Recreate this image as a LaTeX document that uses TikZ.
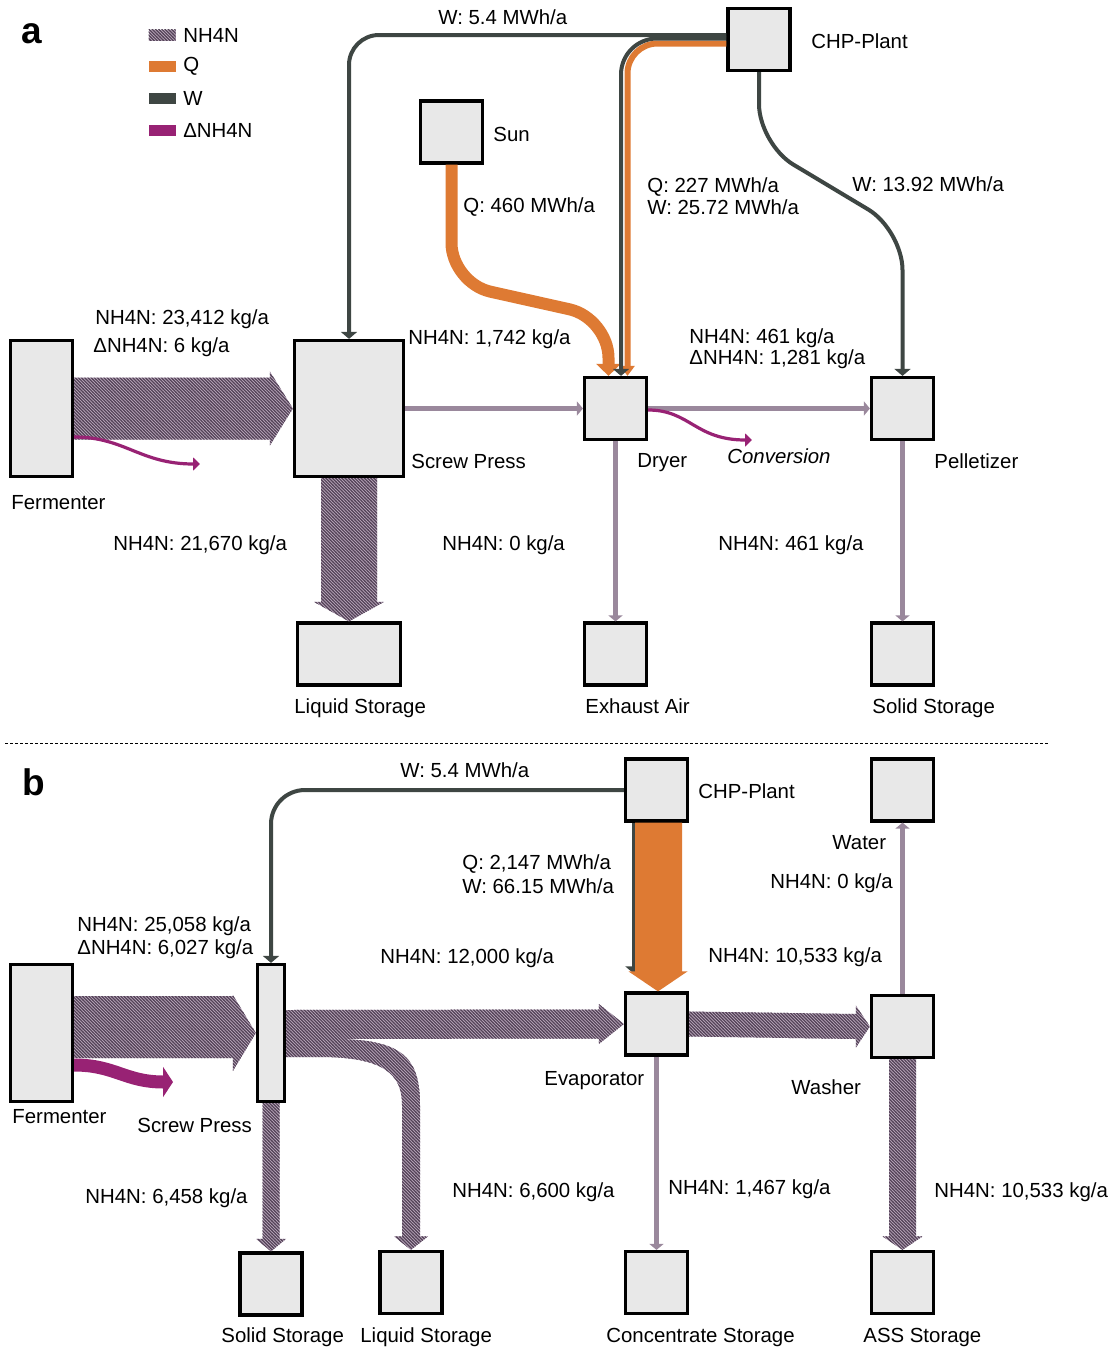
\documentclass[tikz,border=0pt]{standalone}
\usepackage{fontspec}
\setmainfont{Liberation Sans}
\usetikzlibrary{arrows.meta}
\usetikzlibrary{calc}
\usetikzlibrary{patterns}
\usetikzlibrary{positioning}

\definecolor{boxgray}{HTML}{E8E8E8}
\definecolor{wgray}{HTML}{3E4643}
\definecolor{qorange}{HTML}{DE7A33}
\definecolor{dpurple}{HTML}{982274}
\definecolor{nhback}{HTML}{BBA9BD}
\definecolor{nhline}{HTML}{544358}
\definecolor{nhpale}{HTML}{9A889C}

\pgfdeclarepatternformonly{nhhatch}{\pgfqpoint{-1pt}{-1pt}}{\pgfqpoint{2.6pt}{2.6pt}}{\pgfqpoint{1.6pt}{1.6pt}}{%
  \pgfsetlinewidth{0.6pt}%
  \pgfpathmoveto{\pgfqpoint{-0.1pt}{1.7pt}}%
  \pgfpathlineto{\pgfqpoint{1.7pt}{-0.1pt}}%
  \pgfusepath{stroke}}

\begin{document}
\begin{tikzpicture}[x=0.5pt, y=-0.5pt,
    unit/.style={draw, line width=1.6pt, fill=boxgray, minimum width=31pt,
      minimum height=31pt, inner sep=0pt},
    txt/.style={anchor=base west, inner sep=0pt, font=\fontsize{10.2}{12}\selectfont},
    nh/.style={fill=nhback, postaction={pattern=nhhatch, pattern color=nhline}},
    nhthin/.style={draw=nhpale, line width=2.2pt, -{Triangle[width=7pt, length=3pt]}},
    wflow/.style={draw=wgray, line width=2pt, rounded corners=15pt,
      -{Triangle[width=8pt, length=3.5pt]}},
    qflow/.style={draw=qorange, line width=6pt, rounded corners=20pt,
      -{Triangle[width=12pt, length=6pt]}},
    dflow/.style={draw=dpurple, line width=1.6pt, -{Triangle[width=6.5pt, length=3.5pt]}}]
  \useasboundingbox (0,0) rectangle (1114,1349);

  % panel letters
  \node[txt, font=\fontsize{18.5}{22}\selectfont\bfseries] (panelA) at (21,43) {a};
  \node[txt, font=\fontsize{18.5}{22}\selectfont\bfseries] (panelB) at (22,795) {b};

  % legend
  \node[nh, minimum width=13.5pt, minimum height=5.5pt, inner sep=0pt] (legNH) at (162,35) {};
  \node[fill=qorange, minimum width=13.5pt, minimum height=5.5pt, inner sep=0pt] (legQ) at (162,66.5) {};
  \node[fill=wgray, minimum width=13.5pt, minimum height=5.5pt, inner sep=0pt] (legW) at (162,98) {};
  \node[fill=dpurple, minimum width=13.5pt, minimum height=5.5pt, inner sep=0pt] (legD) at (162,130) {};
  \node[txt, right=3.5pt of legNH] (legNHtxt) {NH4N};
  \node[txt, right=3.5pt of legQ] (legQtxt) {Q};
  \node[txt, right=3.5pt of legW] (legWtxt) {W};
  \node[txt, right=3.5pt of legD] (legDtxt) {ΔNH4N};

  % units, panel a
  \node[unit, minimum height=68pt] (fermA) at (41.5,408.5) {};
  \node[unit, minimum width=54.5pt, minimum height=68pt] (pressA) at (349,408.5) {};
  \node[unit] (sun) at (451.5,132) {};
  \node[unit] (chpA) at (759,39.5) {};
  \node[unit] (dryer) at (615.5,408.5) {};
  \node[unit] (pellet) at (902.5,408.5) {};
  \node[unit, minimum width=51.5pt] (liqA) at (349,654) {};
  \node[unit] (exhaust) at (615.5,654) {};
  \node[unit] (solidA) at (902.5,654) {};

  % NH4N flows, panel a
  \fill[nh] ($(fermA.east)+(0,-31)$) -- ($(pressA.west)+(-23,-31)$) -- ($(pressA.west)+(-23,-37)$)
    -- (pressA.west) -- ($(pressA.west)+(-23,37)$) -- ($(pressA.west)+(-23,31)$)
    -- ($(fermA.east)+(0,31)$) -- cycle;
  \fill[nh] ($(pressA.south)+(-28,0)$) -- ($(liqA.north)+(-28,-19.5)$) -- ($(liqA.north)+(-35,-19.5)$)
    -- (liqA.north) -- ($(liqA.north)+(35,-19.5)$) -- ($(liqA.north)+(28,-19.5)$)
    -- ($(pressA.south)+(28,0)$) -- cycle;
  \draw[nhthin] (pressA.east) -- (dryer.west);
  \draw[nhthin] (dryer.east) -- (pellet.west);
  \draw[nhthin] (dryer.south) -- (exhaust.north);
  \draw[nhthin] (pellet.south) -- (solidA.north);

  % heat and power, panel a
  \draw[qflow] (sun.south) -- (451.5,283) -- (608.5,318) -- ($(dryer.north)+(-7,0)$);
  \draw[qflow, line width=3pt, rounded corners=15pt, -{Triangle[width=7pt, length=5pt]}]
    ($(chpA.west)+(0,4)$) -- (627.5,43.5) -- ($(dryer.north)+(12,0)$);
  \draw[wflow, rounded corners=18pt] ($(chpA.west)+(0,-1)$) -- (621,38.5) -- ($(dryer.north)+(5.5,0)$);
  \draw[wflow] ($(chpA.west)+(0,-4.5)$) -- (349,35) -- (pressA.north);
  \draw[wflow, rounded corners=20pt] (chpA.south) -- (759,144) -- (902.5,230) -- (pellet.north);

  % conversion losses, panel a
  \coordinate (dfermA) at (200,464);
  \coordinate (conv) at (752,440);
  \draw[dflow] ($(fermA.east)+(0,28.5)$) .. controls (125,437) and (140,464) .. (dfermA);
  \draw[dflow] ($(dryer.east)+(0,1.5)$) .. controls (690,410) and (695,440) .. (conv);

  % labels, panel a
  \node[txt] (tWa) at (438,25) {W: 5.4 MWh/a};
  \node[txt] (tChpA) at (811,48) {CHP-Plant};
  \node[txt] (tSun) at (493,141) {Sun};
  \node[txt] (tQsun) at (463,212) {Q: 460 MWh/a};
  \node[txt] (tQchp) at (647,192) {Q: 227 MWh/a};
  \node[txt] (tWchp) at (647,214) {W: 25.72 MWh/a};
  \node[txt] (tWpel) at (852,191) {W: 13.92 MWh/a};
  \node[txt] (tFlowA1) at (95,324) {NH4N: 23,412 kg/a};
  \node[txt] (tFlowA2) at (93,352) {ΔNH4N: 6 kg/a};
  \node[txt] (tFlowA3) at (408,344) {NH4N: 1,742 kg/a};
  \node[txt] (tFlowA4) at (689,343) {NH4N: 461 kg/a};
  \node[txt] (tFlowA5) at (689,364) {ΔNH4N: 1,281 kg/a};
  \node[txt] (tPressA) at (411,468) {Screw Press};
  \node[txt] (tDryer) at (637,467) {Dryer};
  \node[txt] (tConv) at (727,463) {\itshape Conversion};
  \node[txt] (tPellet) at (934,468) {Pelletizer};
  \node[txt] (tFermA) at (11,509) {Fermenter};
  \node[txt] (tFlowA6) at (113,550) {NH4N: 21,670 kg/a};
  \node[txt] (tFlowA7) at (442,550) {NH4N: 0 kg/a};
  \node[txt] (tFlowA8) at (718,550) {NH4N: 461 kg/a};
  \node[txt] (tLiqA) at (294,713) {Liquid Storage};
  \node[txt] (tExhaust) at (585,713) {Exhaust Air};
  \node[txt] (tSolidA) at (872,713) {Solid Storage};

  % separator
  \draw[dash pattern=on 1.5pt off 1pt, line width=0.5pt] (5,743) -- (1048,743);

  % units, panel b
  \node[unit] (chpB) at (656.5,790) {};
  \node[unit] (water) at (902.5,790) {};
  \node[unit, minimum height=68.5pt] (fermB) at (41.5,1033) {};
  \node[unit, minimum width=13.5pt, minimum height=68.5pt] (pressB) at (271,1033) {};
  \node[unit] (evap) at (656.5,1024) {};
  \node[unit] (washer) at (902.5,1026.5) {};
  \node[unit] (solidB) at (271,1284) {};
  \node[unit] (liqB) at (411,1282.5) {};
  \node[unit] (conc) at (656.5,1282.5) {};
  \node[unit] (ass) at (902.5,1282.5) {};

  % NH4N flows, panel b
  \fill[nh] ($(fermB.east)+(0,-37)$) -- ($(pressB.west)+(-23,-37)$) -- ($(pressB.west)+(-23,-38)$)
    -- (pressB.west) -- ($(pressB.west)+(-23,38)$) -- ($(pressB.west)+(-23,25)$)
    -- ($(fermB.east)+(0,25)$) -- cycle;
  \fill[nh] ($(pressB.east)+(0,-23)$) -- ($(evap.west)+(-25,-14.5)$) -- ($(evap.west)+(-25,-20)$)
    -- (evap.west) -- ($(evap.west)+(-25,20)$) -- ($(evap.west)+(-25,14.5)$)
    -- ($(pressB.east)+(0,6)$) -- cycle;
  \fill[nh] ($(pressB.east)+(0,6)$) -- (335,1039) .. controls (405,1039) and (420,1060) .. (420,1105)
    -- ($(liqB.north)+(9,-13.5)$) -- ($(liqB.north)+(17,-13.5)$) -- (liqB.north)
    -- ($(liqB.north)+(-17,-13.5)$) -- ($(liqB.north)+(-9,-13.5)$)
    -- (402,1105) .. controls (402,1075) and (385,1057) .. (320,1057)
    -- ($(pressB.east)+(0,24)$) -- cycle;
  \fill[nh] ($(pressB.south)+(-8.5,0)$) -- ($(solidB.north)+(-8.5,-12.5)$) -- ($(solidB.north)+(-15,-12.5)$)
    -- (solidB.north) -- ($(solidB.north)+(15,-12.5)$) -- ($(solidB.north)+(8.5,-12.5)$)
    -- ($(pressB.south)+(8.5,0)$) -- cycle;
  \fill[nh] ($(evap.east)+(0,-12.5)$) -- ($(washer.west)+(-14,-12.5)$) -- ($(washer.west)+(-14,-21)$)
    -- (washer.west) -- ($(washer.west)+(-14,21)$) -- ($(washer.west)+(-14,12.5)$)
    -- ($(evap.east)+(0,12.5)$) -- cycle;
  \fill[nh] ($(washer.south)+(-13.5,0)$) -- ($(ass.north)+(-13.5,-13.5)$) -- ($(ass.north)+(-20,-13.5)$)
    -- (ass.north) -- ($(ass.north)+(20,-13.5)$) -- ($(ass.north)+(13.5,-13.5)$)
    -- ($(washer.south)+(13.5,0)$) -- cycle;
  \draw[nhthin] (evap.south) -- (conc.north);
  \draw[nhthin] (washer.north) -- (water.south);

  % heat and power, panel b
  \draw[wflow, rounded corners=17pt] (chpB.west) -- (271,790) -- (pressB.north);
  \draw[wflow] ($(chpB.south)+(-23,0)$) -- ($(evap.north)+(-23,-18)$);
  \fill[qorange] ($(chpB.south)+(-21.5,0)$) -- ($(evap.north)+(-21.5,-20)$) -- ($(evap.north)+(-28,-20)$)
    -- ($(evap.north)+(1.5,0)$) -- ($(evap.north)+(31,-20)$) -- ($(evap.north)+(25.5,-20)$)
    -- ($(chpB.south)+(25.5,0)$) -- cycle;

  % conversion losses, panel b
  \coordinate (dfermB) at (173,1082);
  \draw[dflow, line width=6.5pt, -{Triangle[width=15pt, length=5pt]}]
    ($(fermB.east)+(0,32)$) .. controls (115,1065) and (125,1082) .. (dfermB);

  % labels, panel b
  \node[txt] (tWb) at (400,777) {W: 5.4 MWh/a};
  \node[txt] (tChpB) at (698,798) {CHP-Plant};
  \node[txt] (tWater) at (832,849) {Water};
  \node[txt] (tFlowB1) at (770,888) {NH4N: 0 kg/a};
  \node[txt] (tFlowB2) at (708,962) {NH4N: 10,533 kg/a};
  \node[txt] (tQevap) at (462,869) {Q: 2,147 MWh/a};
  \node[txt] (tWevap) at (462,893) {W: 66.15 MWh/a};
  \node[txt] (tFlowB3) at (77,931) {NH4N: 25,058 kg/a};
  \node[txt] (tFlowB4) at (77,954) {ΔNH4N: 6,027 kg/a};
  \node[txt] (tFlowB5) at (380,963) {NH4N: 12,000 kg/a};
  \node[txt] (tFermB) at (12,1123) {Fermenter};
  \node[txt] (tPressB) at (137,1132) {Screw Press};
  \node[txt] (tEvap) at (544,1085) {Evaporator};
  \node[txt] (tWasher) at (791,1094) {Washer};
  \node[txt] (tFlowB6) at (85,1203) {NH4N: 6,458 kg/a};
  \node[txt] (tFlowB7) at (452,1197) {NH4N: 6,600 kg/a};
  \node[txt] (tFlowB8) at (668,1194) {NH4N: 1,467 kg/a};
  \node[txt] (tFlowB9) at (934,1197) {NH4N: 10,533 kg/a};
  \node[txt] (tSolidB) at (221,1342) {Solid Storage};
  \node[txt] (tLiqB) at (360,1342) {Liquid Storage};
  \node[txt] (tConc) at (606,1342) {Concentrate Storage};
  \node[txt] (tAss) at (863,1342) {ASS Storage};
\end{tikzpicture}
\end{document}
